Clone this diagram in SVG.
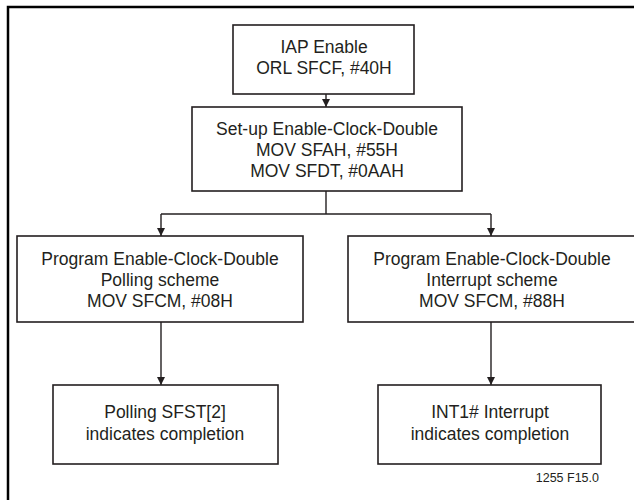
<svg xmlns="http://www.w3.org/2000/svg" width="634" height="500" viewBox="0 0 634 500">
<style>
.box{fill:#fff;stroke:#231f20;stroke-width:1.6}
.t{font-family:"Liberation Sans",Arial,Helvetica,sans-serif;font-size:17.5px;fill:#231f20;text-anchor:middle}
.c{fill:none;stroke:#231f20;stroke-width:1.4}
</style>
<defs>
<marker id="ah" viewBox="0 0 10 10" refX="10" refY="5" markerWidth="8" markerHeight="13" markerUnits="userSpaceOnUse" orient="auto"><path d="M0,0 L10,5 L0,10 z" fill="#231f20"/></marker>
</defs>
<rect x="0" y="0" width="634" height="500" fill="#fff"/>
<path d="M8,500 V7 H634" fill="none" stroke="#000" stroke-width="2.5"/>
<g id="connectors">
<path class="c" d="M326,94 V107" marker-end="url(#ah)"/>
<path class="c" d="M326,191 V214"/>
<path class="c" d="M161,214 H491"/>
<path class="c" d="M161,214 V236" marker-end="url(#ah)"/>
<path class="c" d="M491,214 V236" marker-end="url(#ah)"/>
<path class="c" d="M161,322 V385" marker-end="url(#ah)"/>
<path class="c" d="M491,322 V385" marker-end="url(#ah)"/>
</g>
<g id="n1"><rect class="box" x="233" y="25" width="181" height="69"/>
<text class="t" x="324" y="53">IAP Enable</text><text class="t" x="324" y="74">ORL SFCF, #40H</text></g>
<g id="n2"><rect class="box" x="192" y="107" width="270" height="84"/>
<text class="t" x="327" y="135">Set-up Enable-Clock-Double</text><text class="t" x="327" y="156">MOV SFAH, #55H</text><text class="t" x="327" y="177">MOV SFDT, #0AAH</text></g>
<g id="n3"><rect class="box" x="17" y="236" width="286" height="86"/>
<text class="t" x="160" y="265">Program Enable-Clock-Double</text><text class="t" x="160" y="286">Polling scheme</text><text class="t" x="160" y="307">MOV SFCM, #08H</text></g>
<g id="n4"><rect class="box" x="348" y="236" width="290" height="86"/>
<text class="t" x="492" y="265">Program Enable-Clock-Double</text><text class="t" x="492" y="286">Interrupt scheme</text><text class="t" x="492" y="307">MOV SFCM, #88H</text></g>
<g id="n5"><rect class="box" x="53" y="385" width="225" height="79"/>
<text class="t" x="165" y="418">Polling SFST[2]</text><text class="t" x="165" y="440">indicates completion</text></g>
<g id="n6"><rect class="box" x="378" y="385" width="223" height="79"/>
<text class="t" x="490" y="418">INT1# Interrupt</text><text class="t" x="490" y="440">indicates completion</text></g>
<text x="599" y="482" font-family="Liberation Sans,Arial,sans-serif" font-size="12.5" fill="#231f20" text-anchor="end">1255 F15.0</text>
</svg>
